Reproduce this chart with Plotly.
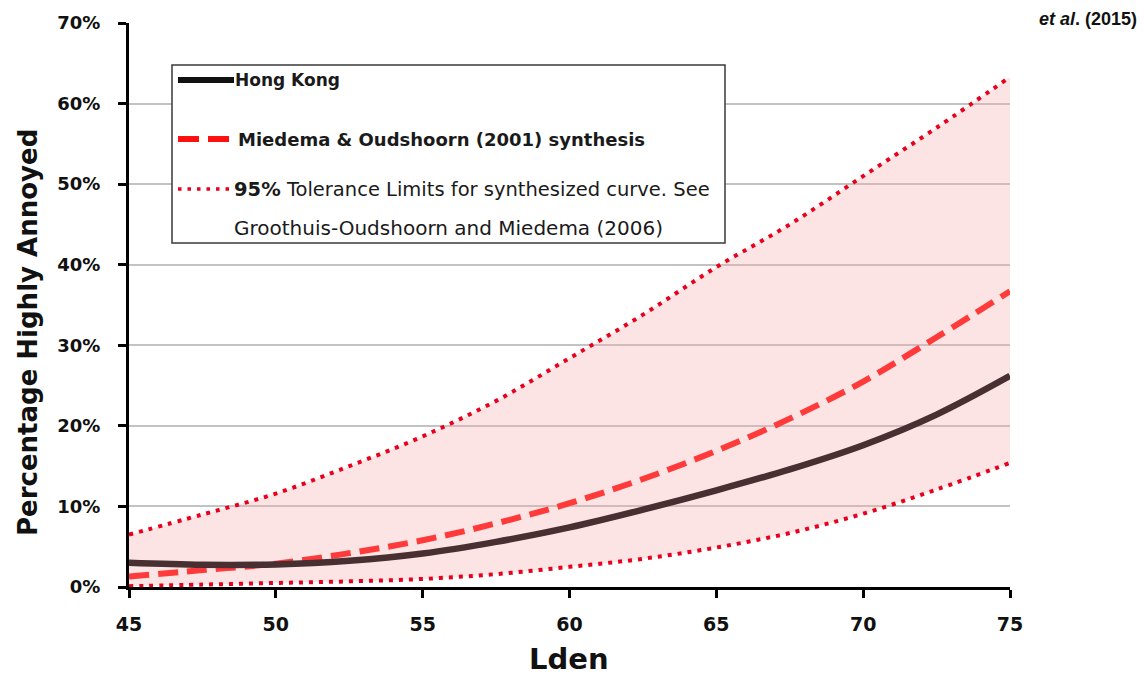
import plotly.graph_objects as go

# ---- data ----
lden = [45, 47.5, 50, 52.5, 55, 57.5, 60, 62.5, 65, 67.5, 70, 72.5, 75]
hong_kong = [3.0, 2.75, 2.8, 3.25, 4.15, 5.6, 7.4, 9.6, 12.0, 14.6, 17.6, 21.4, 26.2]
miedema = [1.3, 2.1, 2.9, 4.2, 5.8, 7.9, 10.4, 13.4, 16.9, 20.9, 25.5, 31.0, 36.7]
tol_upper = [6.5, 9.0, 11.6, 15.0, 18.7, 23.1, 28.4, 33.8, 39.7, 45.0, 51.0, 57.0, 63.3]
tol_lower = [0.1, 0.3, 0.5, 0.7, 1.0, 1.6, 2.5, 3.5, 4.9, 6.7, 9.1, 12.1, 15.4]

x_ticks = [45, 50, 55, 60, 65, 70, 75]
y_ticks = [0, 10, 20, 30, 40, 50, 60, 70]
y_ticklabels = [f"{v}%" for v in y_ticks]

legend_labels = ["Hong Kong", "Miedema & Oudshoorn (2001) synthesis",
                 "<b>95%</b> Tolerance Limits for synthesized curve. See",
                 "Groothuis-Oudshoorn and Miedema (2006)"]

# ---- styles ----
C_HK = "rgb(72,48,50)"
C_DASH = "rgb(255,58,58)"
C_DOT = "rgb(232,0,28)"
C_FILL = "rgba(250,170,170,0.32)"
FONT = "DejaVu Sans"

W, H = 1144, 677
L, R, T, B = 129, 134, 23, 90
PW, PH = W - L - R, H - T - B


def px(x):
    return (x - L) / PW


def py(y):
    return (H - B - y) / PH


fig = go.Figure()

fig.add_trace(go.Scatter(x=lden, y=tol_lower, mode="lines", line=dict(color=C_DOT, width=4, dash="4px,6px", shape="spline"),
                         showlegend=False, hoverinfo="skip"))
fig.add_trace(go.Scatter(x=lden, y=tol_upper, mode="lines", fill="tonexty", fillcolor=C_FILL,
                         line=dict(color=C_DOT, width=4, dash="4px,6px", shape="spline"),
                         showlegend=False, hoverinfo="skip"))
fig.add_trace(go.Scatter(x=lden, y=miedema, mode="lines", line=dict(color=C_DASH, width=6, dash="20px,9px", shape="spline"),
                         showlegend=False))
fig.add_trace(go.Scatter(x=lden, y=hong_kong, mode="lines", line=dict(color=C_HK, width=6.5, shape="spline"),
                         showlegend=False))

# ---- manual legend (box, swatches, labels) ----
fig.add_shape(type="rect", xref="paper", yref="paper", x0=px(172), x1=px(725), y0=py(243), y1=py(65),
              line=dict(color="#3a3a3a", width=1.5), fillcolor="white", layer="above")
fig.add_shape(type="line", xref="paper", yref="paper", x0=px(178), x1=px(234), y0=py(80), y1=py(80),
              line=dict(color="#111111", width=6))
fig.add_shape(type="line", xref="paper", yref="paper", x0=px(178), x1=px(231), y0=py(139), y1=py(139),
              line=dict(color="#ff1010", width=6, dash="21px,9px"))
fig.add_shape(type="line", xref="paper", yref="paper", x0=px(178), x1=px(230), y0=py(189), y1=py(189),
              line=dict(color=C_DOT, width=3.5, dash="3.5px,6px"))

legend_pos = [(233, 80, True, 17), (236, 139, True, 18), (232, 189, False, 19.5), (232, 228, False, 20)]
for lab, (lx, ly, bold, fs) in zip(legend_labels, legend_pos):
    fig.add_annotation(x=px(lx), y=py(ly), xref="paper", yref="paper", xanchor="left", yanchor="middle",
                       text=(f"<b>{lab}</b>" if bold else lab), showarrow=False,
                       font=dict(family=FONT, size=fs, color="#1a1a1a"))

# axis titles
fig.add_annotation(x=px(28), y=py(333), xref="paper", yref="paper", text="<b>Percentage Highly Annoyed</b>",
                   textangle=-90, showarrow=False, xanchor="center", yanchor="middle",
                   font=dict(family=FONT, size=26, color="#111111"))
fig.add_annotation(x=px(569), y=py(659), xref="paper", yref="paper", text="<b>Lden</b>",
                   showarrow=False, xanchor="center", yanchor="middle",
                   font=dict(family=FONT, size=29, color="#111111"))
# source tag
fig.add_annotation(x=px(1139), y=py(19), xref="paper", yref="paper",
                   text="<b><i>et al</i>. (2015)</b>", showarrow=False, xanchor="right", yanchor="middle",
                   font=dict(family="Liberation Sans", size=18, color="#111111"))

fig.update_xaxes(range=[45, 75], tickvals=x_ticks, ticktext=[str(v) for v in x_ticks],
                 showline=True, linecolor="black", linewidth=3, ticks="outside", ticklen=8, tickwidth=3,
                 tickcolor="black", showgrid=False, zeroline=False, ticklabelstandoff=10,
                 tickfont=dict(family=FONT, size=19, color="#111111", weight="bold"))
fig.update_yaxes(range=[0, 70], tickvals=y_ticks, ticktext=y_ticklabels,
                 showline=True, linecolor="black", linewidth=3, ticks="outside", ticklen=8, tickwidth=3,
                 tickcolor="black", showgrid=True, gridcolor="rgb(195,195,195)", gridwidth=1.5,
                 zeroline=False, ticklabelstandoff=14,
                 tickfont=dict(family=FONT, size=18, color="#111111", weight="bold"))

fig.update_layout(width=W, height=H, margin=dict(l=L, r=R, t=T, b=B),
                  plot_bgcolor="white", paper_bgcolor="white", showlegend=False)

fig.write_html("out.html", config={"displayModeBar": False},
               post_script="document.body.style.margin='0';document.body.style.overflow='hidden';")
